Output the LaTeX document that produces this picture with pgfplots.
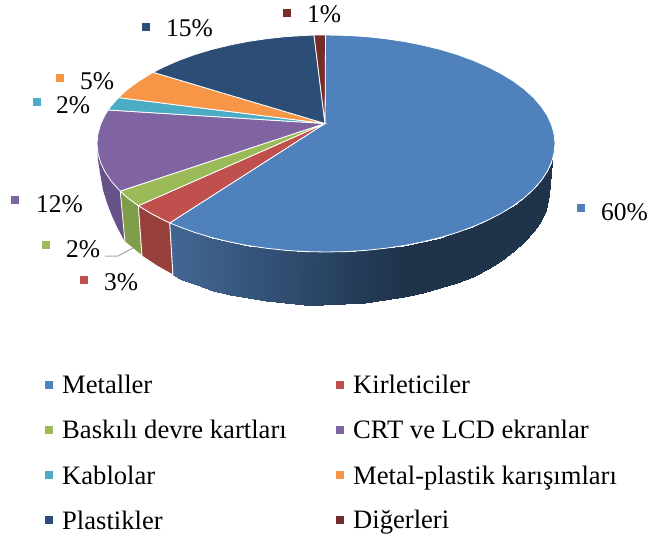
\documentclass[border=0pt]{standalone}
\usepackage{fontspec}
\setmainfont{Liberation Serif}
\usepackage{pgfplots}
\pgfplotsset{compat=1.18}

\definecolor{cblue}{HTML}{4F81BD}
\definecolor{cred}{HTML}{C0504D}
\definecolor{cgreen}{HTML}{9BBB59}
\definecolor{cpurple}{HTML}{8064A2}
\definecolor{cteal}{HTML}{4BACC6}
\definecolor{corange}{HTML}{F79646}
\definecolor{cnavy}{HTML}{2C4D75}
\definecolor{cdark}{HTML}{772C2A}
\definecolor{wpurple}{RGB}{104,82,138}
\definecolor{wgreen}{RGB}{128,157,74}
\definecolor{wred}{RGB}{151,64,60}

\tikzset{
  lab/.style={font=\fontsize{25.5}{30}\selectfont, anchor=base west, inner sep=0pt},
  leg/.style={font=\fontsize{26.6}{31}\selectfont, anchor=base west, inner sep=0pt},
  key/.style={only marks, mark=square*, mark size=3.8pt, mark options={fill=#1, draw=#1, line width=0pt}},
}

\begin{document}
\begin{tikzpicture}
\path[use as bounding box] (0,0) rectangle (651pt,543pt);
\begin{axis}[
    scale only axis, width=651pt, height=543pt,
    anchor=south west, at={(0,0)},
    xmin=0, xmax=651, ymin=0, ymax=543,
    y dir=reverse, hide axis, clip=false,
    colormap={wall}{rgb255=(31,51,75) rgb255=(48,77,112) rgb255=(66,102,147)},
    point meta min=0, point meta max=1,
]

% side walls
\addplot[fill=wpurple, draw=none] coordinates {
  (120.2,191.1) (118.5,189.4) (110.8,180.6) (104.8,171.6) (100.5,162.3) (97.9,153) (97,143.5)
  (98,160) (100,173) (103,190) (107,203) (112,216) (117,227) (125,242)
} -- cycle;
\addplot[fill=wgreen, draw=white, line width=0.8pt] coordinates {
  (120.2,191.1) (127.7,197.8) (138.4,205.7) (142,256) (125,242)
} -- cycle;
\addplot[fill=wred, draw=white, line width=0.8pt] coordinates {
  (138.4,205.7) (150.6,213.2) (164.1,220.2) (169.8,222.9) (173,275) (157,266) (142,256)
} -- cycle;
\addplot[surf, shader=interp, mesh/rows=2, point meta=\thisrow{m}] table {
x y m
169.8 222.9 1
178.8 226.6 .97
194.6 232.4 .9
211.5 237.5 .83
229.2 241.8 .75
247.7 245.5 .67
266.7 248.3 .59
286.2 250.4 .5
306 251.6 .41
326 252 .33
346 251.6 .24
365.8 250.4 .15
385.3 248.3 .06
404.3 245.5 0
422.8 241.8 0
440.5 237.5 0
457.4 232.4 0
473.2 226.6 0
487.9 220.2 0
501.4 213.2 0
513.6 205.7 0
524.3 197.8 0
533.5 189.4 0
541.2 180.6 0
547.2 171.6 0
549 167.9 0
551.5 162.3 0
552.2 160.5 0
173 275 1
181.6 279.7 .97
196.8 285.5 .9
213 290.5 .83
230 294.9 .75
247.8 298.5 .67
266.1 301.3 .59
284.8 303.4 .5
303.8 304.6 .41
323 305 .33
345 304 .24
365 302.5 .15
385 300 .06
404 297.5 0
423 293 0
440 288 0
457 283 0
473 277 0
488 269 0
501 261 0
514 251 0
524 242 0
533 232 0
540 223 0
546 210 0
549 195 0
551 170 0
552.2 160.5 0
};
\addplot[white, line width=0.8pt] coordinates {(169.8,222.9) (173,275)};

% leader line of the green label
\addplot[color=black!35, line width=1pt] coordinates {(105,256) (118,256) (133,248)};

% top face: 60, 3, 2, 12, 2, 5, 15, 1 percent
\addplot[fill=cblue, draw=white, line width=0.8pt] coordinates {
  (325,123.5) (325.5,35) (346,35.4) (365.8,36.6) (385.3,38.7) (404.3,41.5) (422.8,45.2) (440.5,49.5)
  (457.4,54.6) (473.2,60.4) (487.9,66.8) (501.4,73.8) (513.6,81.3) (524.3,89.2) (533.5,97.6)
  (541.2,106.4) (547.2,115.4) (551.5,124.7) (554.1,134) (555,143.5) (554.1,153) (551.5,162.3)
  (547.2,171.6) (541.2,180.6) (533.5,189.4) (524.3,197.8) (513.6,205.7) (501.4,213.2) (487.9,220.2)
  (473.2,226.6) (457.4,232.4) (440.5,237.5) (422.8,241.8) (404.3,245.5) (385.3,248.3) (365.8,250.4)
  (346,251.6) (326,252) (306,251.6) (286.2,250.4) (266.7,248.3) (247.7,245.5) (229.2,241.8)
  (211.5,237.5) (194.6,232.4) (178.8,226.6) (169.8,222.9)
} -- cycle;
\addplot[fill=cred, draw=white, line width=0.8pt] coordinates {
  (325,123.5) (169.8,222.9) (164.1,220.2) (150.6,213.2) (138.4,205.7)
} -- cycle;
\addplot[fill=cgreen, draw=white, line width=0.8pt] coordinates {
  (325,123.5) (138.4,205.7) (127.7,197.8) (120.2,191.1)
} -- cycle;
\addplot[fill=cpurple, draw=white, line width=0.8pt] coordinates {
  (325,123.5) (120.2,191.1) (118.5,189.4) (110.8,180.6) (104.8,171.6) (100.5,162.3) (97.9,153)
  (97,143.5) (97.9,134) (100.5,124.7) (104.8,115.4) (108.2,110)
} -- cycle;
\addplot[fill=cteal, draw=white, line width=0.8pt] coordinates {
  (325,123.5) (108.2,110) (110.8,106.4) (118.5,97.6)
} -- cycle;
\addplot[fill=corange, draw=white, line width=0.8pt] coordinates {
  (325,123.5) (118.5,97.6) (127.7,89.2) (138.4,81.3) (150.6,73.8) (153.2,72.3)
} -- cycle;
\addplot[fill=cnavy, draw=white, line width=0.8pt] coordinates {
  (325,123.5) (153.2,72.3) (164.1,66.8) (178.8,60.4) (194.6,54.6) (211.5,49.5) (229.2,45.2)
  (247.7,41.5) (266.7,38.7) (286.2,36.6) (306,35.4) (314,35.1)
} -- cycle;
\addplot[fill=cdark, draw=white, line width=0.8pt] coordinates {
  (325,123.5) (314,35.1) (325.5,35)
} -- cycle;

% label and legend keys
\addplot[key=cblue] coordinates {(581,208) (49,385)};
\addplot[key=cred] coordinates {(84,280) (340,385)};
\addplot[key=cgreen] coordinates {(46,245) (49,430)};
\addplot[key=cpurple] coordinates {(15,200) (340,430)};
\addplot[key=cteal] coordinates {(37,102) (49,475)};
\addplot[key=corange] coordinates {(60,78) (340,475)};
\addplot[key=cnavy] coordinates {(146,27) (49,520)};
\addplot[key=cdark] coordinates {(287,13) (340,520)};

\node[lab] at (axis cs:601,221) {60\%};
\node[lab] at (axis cs:104,290) {3\%};
\node[lab] at (axis cs:66,257) {2\%};
\node[lab] at (axis cs:36,212) {12\%};
\node[lab] at (axis cs:56,114) {2\%};
\node[lab] at (axis cs:80,90) {5\%};
\node[lab] at (axis cs:166,37) {15\%};
\node[lab] at (axis cs:307,23) {1\%};

\node[leg] at (axis cs:62,393) {Metaller};
\node[leg] at (axis cs:353,393) {Kirleticiler};
\node[leg] at (axis cs:62,438) {Baskılı devre kartları};
\node[leg] at (axis cs:353,438) {CRT ve LCD ekranlar};
\node[leg] at (axis cs:62,484) {Kablolar};
\node[leg] at (axis cs:353,484) {Metal-plastik karışımları};
\node[leg] at (axis cs:62,529) {Plastikler};
\node[leg] at (axis cs:353,528.5) {Diğerleri};
\end{axis}
\end{tikzpicture}
\end{document}
